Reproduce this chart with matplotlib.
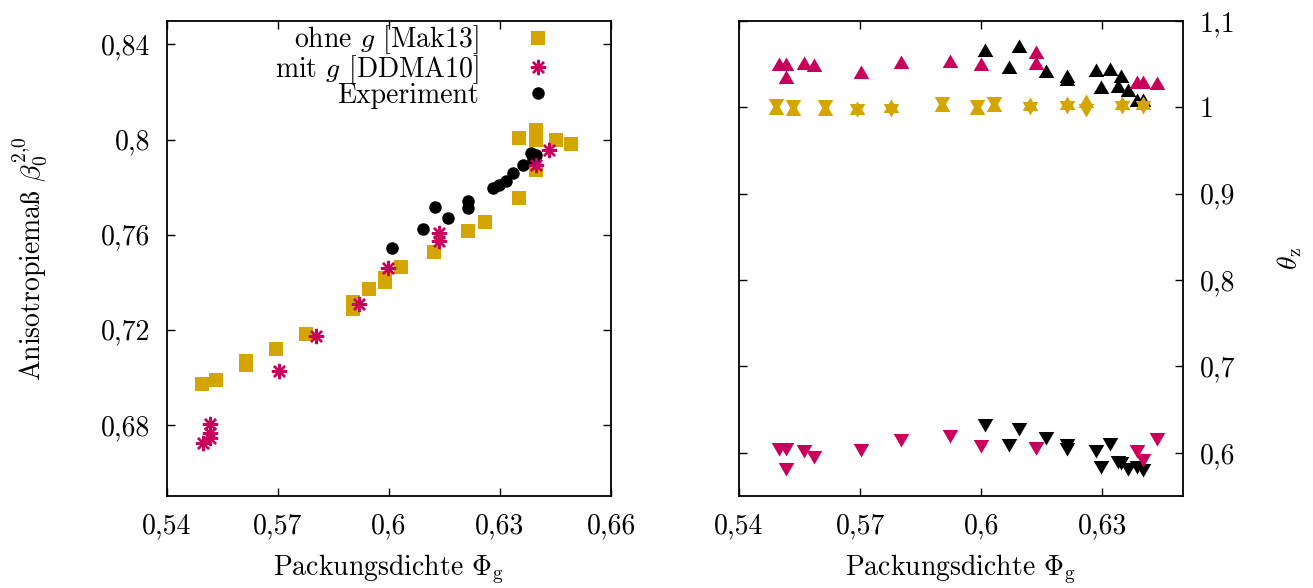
import numpy as np
import matplotlib
matplotlib.use("Agg")
import matplotlib.pyplot as plt
from matplotlib.path import Path
from matplotlib.ticker import FixedLocator

plt.rcParams["font.family"] = ["cmr10", "DejaVu Serif"]
plt.rcParams["mathtext.fontset"] = "cm"
plt.rcParams["axes.formatter.use_mathtext"] = True

YELLOW = "#d4a500"
MAGENTA = "#c8005c"
BLACK = "#000000"

# --- anisotropy vs packing density ---
ohne_x = [0.5495, 0.5532, 0.5614, 0.5614, 0.5695, 0.5776, 0.5902, 0.5902, 0.5946,
          0.5989, 0.5989, 0.6033, 0.6121, 0.6213, 0.6258, 0.6350, 0.6350, 0.6398,
          0.6398, 0.6398, 0.6450, 0.6492]
ohne_y = [0.6970, 0.6986, 0.7052, 0.7068, 0.7117, 0.7183, 0.7288, 0.7316, 0.7369,
          0.7402, 0.7418, 0.7464, 0.7527, 0.7614, 0.7651, 0.7752, 0.8007, 0.8000,
          0.8038, 0.7873, 0.8000, 0.7980]

mit_x = [0.5496, 0.5516, 0.5516, 0.5516, 0.5702, 0.5802, 0.5920, 0.5997, 0.6134,
         0.6134, 0.6397, 0.6433]
mit_y = [0.6723, 0.6802, 0.6767, 0.6746, 0.7024, 0.7173, 0.7306, 0.7460, 0.7607,
         0.7575, 0.7894, 0.7957]

exp_x = [0.6009, 0.6091, 0.6123, 0.6159, 0.6213, 0.6213, 0.6280, 0.6296, 0.6316,
         0.6336, 0.6363, 0.6383, 0.6397, 0.6388]
exp_y = [0.7544, 0.7624, 0.7715, 0.7670, 0.7740, 0.7713, 0.7796, 0.7810, 0.7826,
         0.7859, 0.7893, 0.7943, 0.7936, 0.7920]

# --- theta_z, up / down triangles ---
th_ohne_x = [0.5493, 0.5533, 0.5612, 0.5692, 0.5776, 0.5903, 0.5989, 0.6033, 0.6122,
             0.6213, 0.6259, 0.6350, 0.6400]
th_ohne_up = [0.9970, 0.9958, 0.9958, 0.9962, 0.9995, 0.9998, 0.9963, 1.0001, 1.0015,
              1.0019, 1.0045, 1.0020, 1.0030]
th_ohne_dn = [1.0044, 1.0032, 1.0032, 0.9992, 0.9995, 1.0072, 1.0037, 1.0075, 1.0015,
              1.0019, 0.9985, 1.0020, 1.0030]

th_mit_x = [0.5498, 0.5517, 0.5517, 0.5561, 0.5587, 0.5703, 0.5802, 0.5922, 0.5999,
            0.6135, 0.6137, 0.6386, 0.6400, 0.6435]
th_mit_up = [1.0475, 1.0476, 1.0331, 1.0493, 1.0463, 1.0382, 1.0501, 1.0516, 1.0470,
             1.0614, 1.0486, 1.0273, 1.0273, 1.0254]
th_mit_dn = [0.6070, 0.6070, 0.5838, 0.6043, 0.5973, 0.6051, 0.6175, 0.6213, 0.6097,
             0.6077, 0.6077, 0.6043, 0.5944, 0.6186]

th_exp_x = [0.6009, 0.6093, 0.6068, 0.6161, 0.6213, 0.6213, 0.6284, 0.6318, 0.6297,
            0.6347, 0.6338, 0.6363, 0.6386, 0.6400]
th_exp_up = [1.0640, 1.0679, 1.0446, 1.0389, 1.0339, 1.0300, 1.0408, 1.0420, 1.0215,
             1.0339, 1.0226, 1.0176, 1.0060, 1.0060]
th_exp_dn = [0.6340, 0.6302, 0.6109, 0.6198, 0.6109, 0.6070, 0.6043, 0.6128, 0.5857,
             0.5904, 0.5915, 0.5838, 0.5860, 0.5819]

left_xticks = [0.54, 0.57, 0.60, 0.63, 0.66]
left_xlabels = ["0,54", "0,57", "0,6", "0,63", "0,66"]
left_yticks = [0.68, 0.72, 0.76, 0.80, 0.84]
left_ylabels = ["0,68", "0,72", "0,76", "0,8", "0,84"]
right_xticks = [0.54, 0.57, 0.60, 0.63]
right_xlabels = ["0,54", "0,57", "0,6", "0,63"]
right_yticks = [0.6, 0.7, 0.8, 0.9, 1.0, 1.1]
right_ylabels = ["0,6", "0,7", "0,8", "0,9", "1", "1,1"]

# equilateral triangles centred on their centroid
s3 = np.sqrt(3.0)
tri_up = Path([(0, 2 / 3), (-1 / s3, -1 / 3), (1 / s3, -1 / 3), (0, 2 / 3)], closed=True)
tri_dn = Path([(0, -2 / 3), (-1 / s3, 1 / 3), (1 / s3, 1 / 3), (0, -2 / 3)], closed=True)
TRI_MS = 13

FS = 20
fig = plt.figure(figsize=(13.13, 5.88), dpi=100)
ax1 = fig.add_axes([0.1272, 0.1565, 0.3382, 0.8083])
ax2 = fig.add_axes([0.5628, 0.1565, 0.3382, 0.8083])

for ax in (ax1, ax2):
    for sp in ax.spines.values():
        sp.set_linewidth(1.3)
    ax.tick_params(direction="in", length=6, width=1.0, top=True, right=True,
                   labelsize=FS, pad=12)

# left panel
ax1.plot(ohne_x, ohne_y, ls="none", marker="s", ms=10, mew=0, color=YELLOW,
         label=r"ohne $g$ [Mak13]", zorder=3)
ax1.plot(mit_x, mit_y, ls="none", marker=(8, 2, 0), ms=11, mew=1.7, color=MAGENTA,
         label=r"mit $g$ [DDMA10]", zorder=5)
ax1.plot(exp_x, exp_y, ls="none", marker="o", ms=9, mew=0, color=BLACK,
         label="Experiment", zorder=4)

ax1.set_xlim(0.54, 0.66)
ax1.set_ylim(0.65, 0.85)
ax1.xaxis.set_major_locator(FixedLocator(left_xticks))
ax1.set_xticklabels(left_xlabels)
ax1.yaxis.set_major_locator(FixedLocator(left_yticks))
ax1.set_yticklabels(left_ylabels)
ax1.set_xlabel(r"Packungsdichte $\Phi_\mathrm{g}$", fontsize=FS, labelpad=10)
ax1.set_ylabel(r"Anisotropiema$\mathrm{\ss}$ $\beta_0^{2{,}0}$", fontsize=FS)
ax1.yaxis.set_label_coords(-0.265, 0.5)

ax1.legend(loc="upper right", bbox_to_anchor=(0.874, 1.0), frameon=False,
           markerfirst=False, fontsize=FS, handlelength=1.0, handletextpad=1.66,
           labelspacing=-0.12, borderpad=0.1, borderaxespad=0)

# right panel
ax2.plot(th_exp_x, th_exp_up, ls="none", marker=tri_up, ms=TRI_MS, mew=0, color=BLACK)
ax2.plot(th_exp_x, th_exp_dn, ls="none", marker=tri_dn, ms=TRI_MS, mew=0, color=BLACK)
ax2.plot(th_mit_x, th_mit_up, ls="none", marker=tri_up, ms=TRI_MS, mew=0, color=MAGENTA)
ax2.plot(th_mit_x, th_mit_dn, ls="none", marker=tri_dn, ms=TRI_MS, mew=0, color=MAGENTA)
ax2.plot(th_ohne_x, th_ohne_up, ls="none", marker=tri_up, ms=TRI_MS, mew=0, color=YELLOW)
ax2.plot(th_ohne_x, th_ohne_dn, ls="none", marker=tri_dn, ms=TRI_MS, mew=0, color=YELLOW)

ax2.set_xlim(0.54, 0.65)
ax2.set_ylim(0.55, 1.1)
ax2.xaxis.set_major_locator(FixedLocator(right_xticks))
ax2.set_xticklabels(right_xlabels)
ax2.yaxis.set_major_locator(FixedLocator(right_yticks))
ax2.set_yticklabels(right_ylabels)
ax2.tick_params(left=True, labelleft=False, labelright=True)
ax2.set_xlabel(r"Packungsdichte $\Phi_\mathrm{g}$", fontsize=FS, labelpad=10)
ax2.yaxis.set_label_position("right")
ax2.set_ylabel(r"$\theta_\mathrm{z}$", fontsize=FS, labelpad=29)

fig.savefig("out.png", dpi=100)
